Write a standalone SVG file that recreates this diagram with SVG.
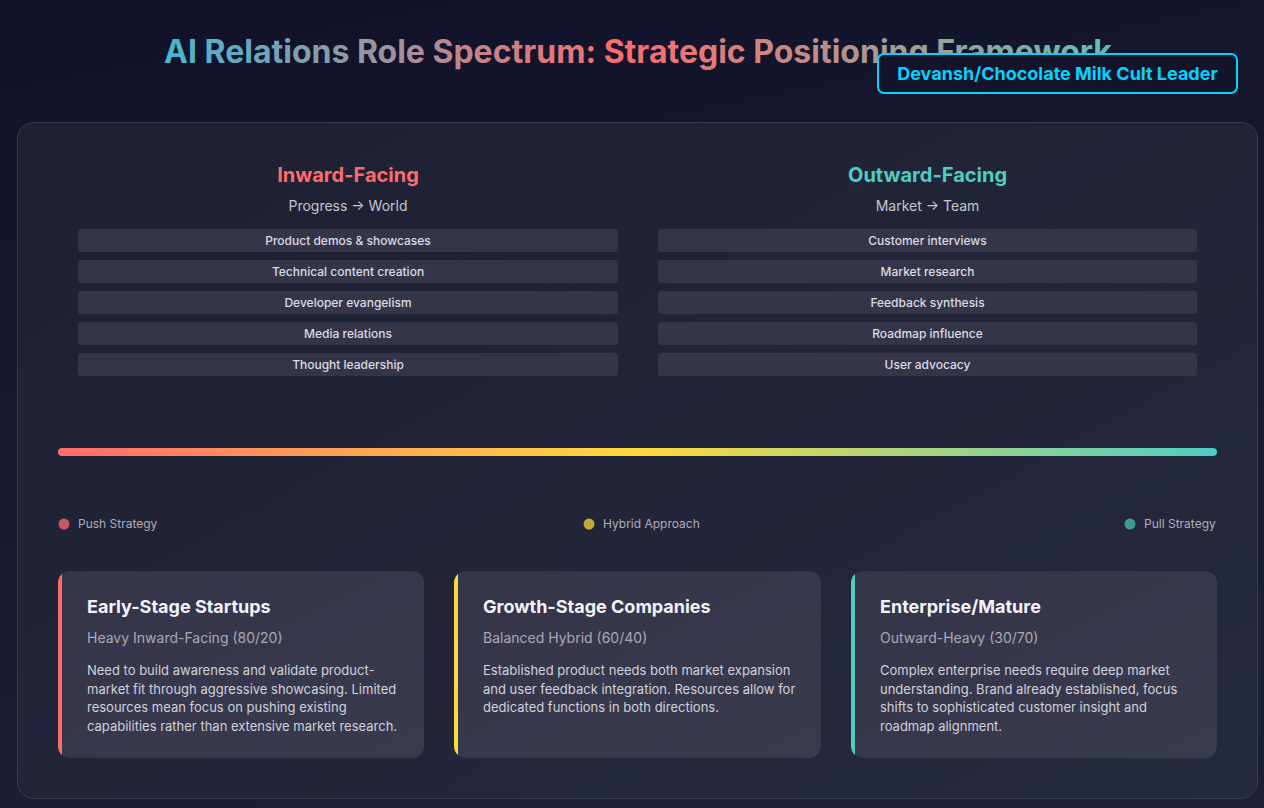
<svg xmlns="http://www.w3.org/2000/svg" width="1264" height="808" viewBox="0 0 1264 808">
<defs>
<linearGradient id="bg" x1="0" y1="0" x2="0.3" y2="1"><stop offset="0" stop-color="#11122a"/><stop offset="1" stop-color="#1c1f37"/></linearGradient>
<linearGradient id="panel" x1="0" y1="0" x2="1" y2="1"><stop offset="0" stop-color="#1e1f33"/><stop offset="1" stop-color="#262a3e"/></linearGradient>
<linearGradient id="title" gradientUnits="userSpaceOnUse" x1="163" y1="0" x2="1112" y2="0"><stop offset="0" stop-color="#45b7d1"/><stop offset="0.48" stop-color="#ff6b6b"/><stop offset="1" stop-color="#5fbfb8"/></linearGradient>
<linearGradient id="spec" x1="0" y1="0" x2="1" y2="0"><stop offset="0" stop-color="#ff6b6b"/><stop offset="0.5" stop-color="#ffd93d"/><stop offset="1" stop-color="#4ecdc4"/></linearGradient>
<linearGradient id="card" x1="0" y1="0" x2="1" y2="1"><stop offset="0" stop-color="#35354a"/><stop offset="1" stop-color="#383a4e"/></linearGradient>
<clipPath id="c1"><rect x="58" y="571" width="366" height="187" rx="12"/></clipPath>
<clipPath id="c2"><rect x="454" y="571" width="367" height="187" rx="12"/></clipPath>
<clipPath id="c3"><rect x="851" y="571" width="366" height="187" rx="12"/></clipPath>
</defs>
<style>
text{font-family:Inter,"Noto Sans","Liberation Sans",sans-serif}
.h{font-size:20px;font-weight:700;text-anchor:middle}
.sub{font-size:14px;fill:#c6c6d0;text-anchor:middle}
.item{fill:#35354a}
.it{font-size:12px;fill:#dcdce4;text-anchor:middle;font-weight:500}
.leg{font-size:12px;fill:#aeaebb}
.ct{font-size:18px;font-weight:700;fill:#f3f3f7}
.cs{font-size:14px;fill:#a9a9b6}
.cb{font-size:13px;fill:#d2d2dc}
</style>
<rect width="1264" height="808" fill="url(#bg)"/>
<text x="638" y="63" font-size="32" font-weight="700" text-anchor="middle" fill="url(#title)">AI Relations Role Spectrum: Strategic Positioning Framework</text>
<g id="badge">
<rect x="878" y="54" width="359" height="39" rx="6" fill="#13132a" stroke="#00d4ff" stroke-width="2"/>
<text x="1057.5" y="80" font-size="18" font-weight="700" fill="#00d4ff" text-anchor="middle">Devansh/Chocolate Milk Cult Leader</text>
</g>
<rect id="panel-bg" x="17.5" y="122.5" width="1240" height="676" rx="16" fill="url(#panel)" stroke="#383b52"/>
<g id="inward">
<text class="h" x="348" y="182" fill="#ff6b6b">Inward-Facing</text>
<text class="sub" x="348" y="211">Progress → World</text>
<rect class="item" x="78" y="229" width="540" height="23" rx="3"/><text class="it" x="348" y="245">Product demos &amp; showcases</text>
<rect class="item" x="78" y="260" width="540" height="23" rx="3"/><text class="it" x="348" y="276">Technical content creation</text>
<rect class="item" x="78" y="291" width="540" height="23" rx="3"/><text class="it" x="348" y="307">Developer evangelism</text>
<rect class="item" x="78" y="322" width="540" height="23" rx="3"/><text class="it" x="348" y="338">Media relations</text>
<rect class="item" x="78" y="353" width="540" height="23" rx="3"/><text class="it" x="348" y="369">Thought leadership</text>
</g>
<g id="outward">
<text class="h" x="927.5" y="182" fill="#4ecdc4">Outward-Facing</text>
<text class="sub" x="927.5" y="211">Market → Team</text>
<rect class="item" x="658" y="229" width="539" height="23" rx="3"/><text class="it" x="927.5" y="245">Customer interviews</text>
<rect class="item" x="658" y="260" width="539" height="23" rx="3"/><text class="it" x="927.5" y="276">Market research</text>
<rect class="item" x="658" y="291" width="539" height="23" rx="3"/><text class="it" x="927.5" y="307">Feedback synthesis</text>
<rect class="item" x="658" y="322" width="539" height="23" rx="3"/><text class="it" x="927.5" y="338">Roadmap influence</text>
<rect class="item" x="658" y="353" width="539" height="23" rx="3"/><text class="it" x="927.5" y="369">User advocacy</text>
</g>
<g id="spectrum">
<rect x="58" y="448" width="1159" height="8" rx="4" fill="url(#spec)"/>
</g>
<g id="legend">
<circle cx="64" cy="524" r="5.5" fill="#c9575f"/><text class="leg" x="78" y="528">Push Strategy</text>
<circle cx="589" cy="524" r="5.5" fill="#c4a83a"/><text class="leg" x="603" y="528">Hybrid Approach</text>
<circle cx="1130" cy="524" r="5.5" fill="#3a9c98"/><text class="leg" x="1144" y="528">Pull Strategy</text>
</g>
<g id="card-early">
<g clip-path="url(#c1)"><rect x="58" y="571" width="366" height="187" fill="url(#card)"/><rect x="58" y="571" width="4" height="187" fill="#ff6b6b"/></g>
<text class="ct" x="87" y="613">Early-Stage Startups</text>
<text class="cs" x="87" y="643">Heavy Inward-Facing (80/20)</text>
<text class="cb"><tspan x="87" y="675">Need to build awareness and validate product-</tspan><tspan x="87" y="693.5">market fit through aggressive showcasing. Limited</tspan><tspan x="87" y="712">resources mean focus on pushing existing</tspan><tspan x="87" y="730.5">capabilities rather than extensive market research.</tspan></text>
</g>
<g id="card-growth">
<g clip-path="url(#c2)"><rect x="454" y="571" width="367" height="187" fill="url(#card)"/><rect x="454" y="571" width="4" height="187" fill="#ffd93d"/></g>
<text class="ct" x="483" y="613">Growth-Stage Companies</text>
<text class="cs" x="483" y="643">Balanced Hybrid (60/40)</text>
<text class="cb"><tspan x="483" y="675">Established product needs both market expansion</tspan><tspan x="483" y="693.5">and user feedback integration. Resources allow for</tspan><tspan x="483" y="712">dedicated functions in both directions.</tspan></text>
</g>
<g id="card-enterprise">
<g clip-path="url(#c3)"><rect x="851" y="571" width="366" height="187" fill="url(#card)"/><rect x="851" y="571" width="4" height="187" fill="#4ecdc4"/></g>
<text class="ct" x="880" y="613">Enterprise/Mature</text>
<text class="cs" x="880" y="643">Outward-Heavy (30/70)</text>
<text class="cb"><tspan x="880" y="675">Complex enterprise needs require deep market</tspan><tspan x="880" y="693.5">understanding. Brand already established, focus</tspan><tspan x="880" y="712">shifts to sophisticated customer insight and</tspan><tspan x="880" y="730.5">roadmap alignment.</tspan></text>
</g>
<g id="connectors"/>
</svg>
